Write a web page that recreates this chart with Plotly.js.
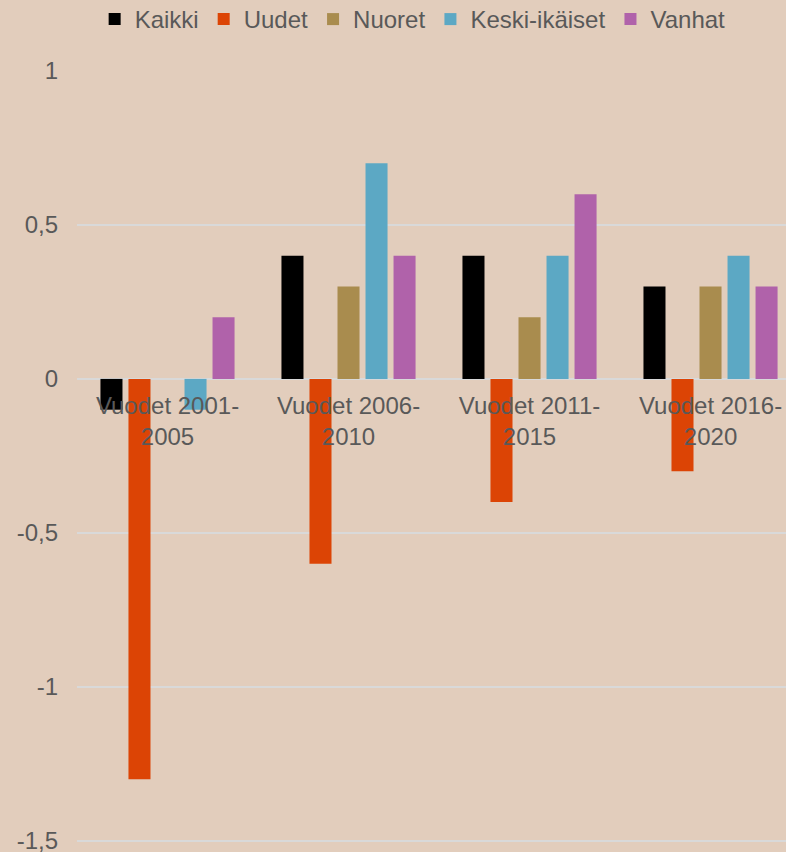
<!DOCTYPE html>
<html>
<head>
<meta charset="utf-8">
<script src="https://cdn.plot.ly/plotly-3.0.1.min.js"></script>
<style>
  body { margin: 0; background: #e2cdbc; }
  #chart { width: 786px; height: 852px; }
</style>
</head>
<body>
<div id="chart"></div>
<script>
// Category labels and series values
var periods = ["Vuodet 2001-<br>2005", "Vuodet 2006-<br>2010", "Vuodet 2011-<br>2015", "Vuodet 2016-<br>2020"];
var kaikki = [-0.1, 0.4, 0.4, 0.3];
var uudet = [-1.3, -0.6, -0.4, -0.3];
var nuoret = [0, 0.3, 0.2, 0.3];
var keski = [-0.1, 0.7, 0.4, 0.4];
var vanhat = [0.2, 0.4, 0.6, 0.3];

// y tick labels use a plain hyphen and decimal comma like the original
var yTickVals = [-1.5, -1, -0.5, 0, 0.5, 1];
var yTickText = ["-1,5", "-1", "-0,5", "0", "0,5", "1"];

var series = [
  {name: "Kaikki", y: kaikki, color: "#000000"},
  {name: "Uudet", y: uudet, color: "#dc4405"},
  {name: "Nuoret", y: nuoret, color: "#a98c4e"},
  {name: "Keski-ikäiset", y: keski, color: "#5ca8c4"},
  {name: "Vanhat", y: vanhat, color: "#b062aa"}
];

var data = series.map(function(s) {
  return {
    type: "bar",
    name: s.name,
    x: periods,
    y: s.y,
    marker: {color: s.color},
    hoverinfo: "name+y"
  };
});

var layout = {
  width: 786,
  height: 852,
  paper_bgcolor: "#e2cdbc",
  plot_bgcolor: "#e2cdbc",
  font: {family: "Liberation Sans, Arial, sans-serif", size: 24, color: "#595959"},
  margin: {l: 77, r: 0, t: 71, b: 2, autoexpand: false},
  barmode: "group",
  bargap: 0.226,
  bargroupgap: 0.214,
  showlegend: true,
  legend: {
    orientation: "h",
    x: 0.525,
    xref: "container",
    xanchor: "center",
    y: 1.095,
    yref: "paper",
    yanchor: "top",
    font: {size: 24, color: "#595959"},
    itemwidth: 30,
    tracegroupgap: 0
  },
  xaxis: {
    type: "category",
    range: [-0.5, 3.417],
    anchor: "free",
    position: 1.53 / 2.53,
    showgrid: false,
    showline: false,
    ticks: "",
    ticklabelstandoff: 10,
    tickfont: {size: 24, color: "#595959"},
    fixedrange: true
  },
  yaxis: {
    range: [-1.53, 1],
    tickvals: yTickVals,
    ticktext: yTickText,
    showgrid: true,
    gridcolor: "#d9d9d9",
    gridwidth: 1.5,
    zeroline: false,
    showline: false,
    ticks: "",
    ticklabelstandoff: 18,
    ticklabeloverflow: "allow",
    tickfont: {size: 24, color: "#595959"},
    fixedrange: true
  }
};

Plotly.newPlot("chart", data, layout, {displayModeBar: false});
</script>
</body>
</html>
